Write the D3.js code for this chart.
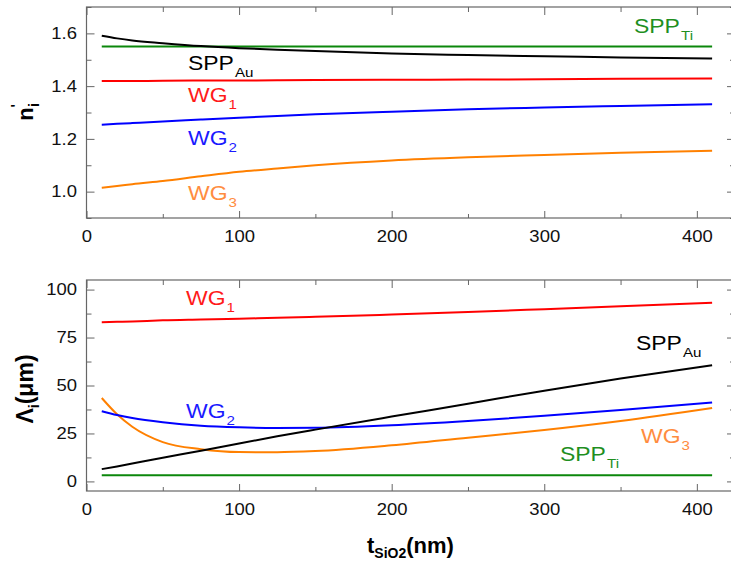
<!DOCTYPE html>
<html>
<head>
<meta charset="utf-8">
<script src="https://cdn.jsdelivr.net/npm/d3@7"></script>
<style>
  html, body { margin: 0; padding: 0; background: #fff; }
  svg { display: block; font-family: "Liberation Sans", Arial, sans-serif; }
</style>
</head>
<body>
<svg id="chart" width="731" height="564"></svg>
<script>
// Oxide thickness (nm) at which the modes were computed
const thickness = [10, 20, 30, 50, 75, 100, 125, 150, 200, 250, 300, 350, 410];

// Effective index n'_i of each mode
const nSppTi = [1.550, 1.550, 1.550, 1.550, 1.550, 1.550, 1.550, 1.550, 1.550, 1.550, 1.550, 1.550, 1.550];
const nSppAu = [1.591, 1.581, 1.573, 1.563, 1.552, 1.544, 1.538, 1.533, 1.524, 1.518, 1.513, 1.509, 1.505];
const nWG1   = [1.419, 1.419, 1.419, 1.420, 1.421, 1.421, 1.422, 1.423, 1.424, 1.425, 1.426, 1.428, 1.429];
const nWG2   = [1.254, 1.257, 1.260, 1.266, 1.273, 1.280, 1.287, 1.293, 1.303, 1.312, 1.319, 1.325, 1.331];
const nWG3   = [1.015, 1.021, 1.028, 1.040, 1.058, 1.075, 1.088, 1.100, 1.118, 1.130, 1.139, 1.147, 1.155];

// Propagation length Λ_i (µm) of each mode
const lSppTi = [3.2, 3.2, 3.2, 3.2, 3.2, 3.2, 3.2, 3.2, 3.2, 3.2, 3.2, 3.2, 3.2];
const lSppAu = [6.4, 7.8, 9.3, 12.3, 16.0, 19.8, 23.5, 27.0, 33.8, 40.5, 47.3, 53.6, 60.6];
const lWG1   = [83.0, 83.2, 83.4, 84.0, 84.4, 84.8, 85.3, 85.8, 87.0, 88.3, 89.8, 91.3, 93.1];
const lWG2   = [36.6, 34.6, 33.0, 30.8, 29.0, 28.2, 27.9, 28.0, 29.3, 31.5, 34.2, 37.2, 41.1];
const lWG3   = [43.5, 35.0, 28.5, 20.5, 16.8, 15.3, 15.2, 15.8, 18.8, 22.8, 26.8, 31.5, 38.3];

// Axis ticks
const xTicks = [0, 100, 200, 300, 400];
const xMinor = [50, 150, 250, 350];
const nTicks = [1.0, 1.2, 1.4, 1.6];
const nMinor = [0.9, 1.1, 1.3, 1.5, 1.7];
const lTicks = [0, 25, 50, 75, 100];
const lMinor = [12.5, 37.5, 62.5, 87.5];

const colors = {
  sppTi: "#0b870b", sppAu: "#000000", wg1: "#ff0000", wg2: "#0000ff", wg3: "#ff8000"
};
const labelColors = {
  sppTi: "#1f8f1f", sppAu: "#000000", wg1: "#ff1a1a", wg2: "#1a1aff", wg3: "#ff8c40"
};

const svg = d3.select("#chart");
const frameColor = "#666";
const sx = 1.12; // horizontal widening of the lettering

const x = d3.scaleLinear().domain([0, 425]).range([86.5, 735]);

const panels = [
  {
    y: d3.scaleLinear().domain([0.9, 1.7]).range([218, 7]),
    ticks: nTicks, minor: nMinor, fmt: d3.format(".1f"),
    series: [
      { key: "sppTi", v: nSppTi }, { key: "sppAu", v: nSppAu },
      { key: "wg1", v: nWG1 }, { key: "wg2", v: nWG2 }, { key: "wg3", v: nWG3 }
    ],
    labels: [
      { key: "sppTi", x: 634, y: 33, main: "SPP", sub: "Ti" },
      { key: "sppAu", x: 188, y: 70, main: "SPP", sub: "Au" },
      { key: "wg1", x: 188, y: 102, main: "WG", sub: "1" },
      { key: "wg2", x: 188, y: 145, main: "WG", sub: "2" },
      { key: "wg3", x: 188, y: 200, main: "WG", sub: "3" }
    ]
  },
  {
    y: d3.scaleLinear().domain([-5, 105]).range([491, 280]),
    ticks: lTicks, minor: lMinor, fmt: d3.format("d"),
    series: [
      { key: "sppTi", v: lSppTi }, { key: "wg3", v: lWG3 }, { key: "wg2", v: lWG2 },
      { key: "sppAu", v: lSppAu }, { key: "wg1", v: lWG1 }
    ],
    labels: [
      { key: "wg1", x: 186, y: 305, main: "WG", sub: "1" },
      { key: "wg2", x: 186, y: 418, main: "WG", sub: "2" },
      { key: "sppAu", x: 636, y: 350, main: "SPP", sub: "Au" },
      { key: "wg3", x: 641, y: 443, main: "WG", sub: "3" },
      { key: "sppTi", x: 560, y: 461, main: "SPP", sub: "Ti" }
    ]
  }
];

function styleAxis(g) {
  g.select(".domain").remove();
  g.selectAll(".tick line").attr("stroke", frameColor).attr("stroke-width", 1);
}

panels.forEach(p => {
  const [yBot, yTop] = p.y.range();
  const [xL, xR] = x.range();
  const g = svg.append("g");

  // data curves
  const line = d3.line()
    .x((d, i) => x(thickness[i]))
    .y(d => p.y(d))
    .curve(d3.curveMonotoneX);
  p.series.forEach(s => {
    g.append("path")
      .attr("d", line(s.v))
      .attr("fill", "none")
      .attr("stroke", colors[s.key])
      .attr("stroke-width", 2);
  });

  // bottom axis with labels
  const bx = g.append("g").attr("transform", `translate(0,${yBot})`)
    .call(d3.axisBottom(x).tickValues(xTicks).tickSizeInner(-7).tickSizeOuter(0).tickPadding(12));
  styleAxis(bx);
  bx.selectAll(".tick text").attr("font-size", 16.5).attr("fill", "#111")
    .attr("font-family", "Liberation Sans, Arial, sans-serif")
    .attr("transform", `scale(${sx},1)`);
  const bxm = g.append("g").attr("transform", `translate(0,${yBot})`)
    .call(d3.axisBottom(x).tickValues(xMinor).tickSizeInner(-4).tickSizeOuter(0).tickFormat(""));
  styleAxis(bxm);

  // top mirror ticks
  const tx = g.append("g").attr("transform", `translate(0,${yTop})`)
    .call(d3.axisTop(x).tickValues(xTicks).tickSizeInner(-8).tickSizeOuter(0).tickFormat(""));
  styleAxis(tx);
  const txm = g.append("g").attr("transform", `translate(0,${yTop})`)
    .call(d3.axisTop(x).tickValues(xMinor).tickSizeInner(-5).tickSizeOuter(0).tickFormat(""));
  styleAxis(txm);

  // left axis with labels
  const ly = g.append("g").attr("transform", `translate(${xL},0)`)
    .call(d3.axisLeft(p.y).tickValues(p.ticks).tickFormat(p.fmt).tickSizeInner(-8).tickSizeOuter(0).tickPadding(8.5));
  styleAxis(ly);
  ly.selectAll(".tick text").attr("font-size", 16.5).attr("fill", "#111")
    .attr("font-family", "Liberation Sans, Arial, sans-serif")
    .attr("transform", `scale(${sx},1)`);
  const lym = g.append("g").attr("transform", `translate(${xL},0)`)
    .call(d3.axisLeft(p.y).tickValues(p.minor).tickSizeInner(-5).tickSizeOuter(0).tickFormat(""));
  styleAxis(lym);

  // right mirror ticks
  const ry = g.append("g").attr("transform", `translate(${xR},0)`)
    .call(d3.axisRight(p.y).tickValues(p.ticks).tickSizeInner(-8).tickSizeOuter(0).tickFormat(""));
  styleAxis(ry);
  const rym = g.append("g").attr("transform", `translate(${xR},0)`)
    .call(d3.axisRight(p.y).tickValues(p.minor).tickSizeInner(-5).tickSizeOuter(0).tickFormat(""));
  styleAxis(rym);

  // frame
  g.append("rect")
    .attr("x", xL).attr("y", yTop)
    .attr("width", xR - xL).attr("height", yBot - yTop)
    .attr("fill", "none").attr("stroke", frameColor).attr("stroke-width", 1.2);

  // mode labels
  p.labels.forEach(l => {
    const t = g.append("text")
      .attr("transform", `translate(${l.x},${l.y}) scale(${sx},1)`)
      .attr("fill", labelColors[l.key])
      .attr("font-size", 20.5);
    t.append("tspan").text(l.main);
    t.append("tspan").attr("dy", 7).attr("dx", 1).attr("font-size", 13.5).text(l.sub);
  });
});

// y-axis titles
const t1 = svg.append("text")
  .attr("transform", "translate(33,112) rotate(-90)")
  .attr("text-anchor", "middle")
  .attr("font-weight", "bold").attr("font-size", 22).attr("fill", "#000");
t1.append("tspan").text("n");
t1.append("tspan").attr("dy", -12).attr("font-size", 14).text("'");
t1.append("tspan").attr("dx", -3).attr("dy", 18).attr("font-size", 14).text("i");

const t2 = svg.append("text")
  .attr("transform", "translate(33,389) rotate(-90)")
  .attr("text-anchor", "middle")
  .attr("font-weight", "bold").attr("font-size", 23).attr("fill", "#000");
t2.append("tspan").text("Λ");
t2.append("tspan").attr("dy", 6).attr("font-size", 14).text("i");
t2.append("tspan").attr("dy", -6).text("(μm)");

// x-axis title
const t3 = svg.append("text")
  .attr("transform", "translate(367,553)")
  .attr("font-weight", "bold").attr("font-size", 22).attr("fill", "#000");
t3.append("tspan").text("t");
t3.append("tspan").attr("dy", 5).attr("font-size", 14).text("SiO2");
t3.append("tspan").attr("dy", -5).text("(nm)");
</script>
</body>
</html>
